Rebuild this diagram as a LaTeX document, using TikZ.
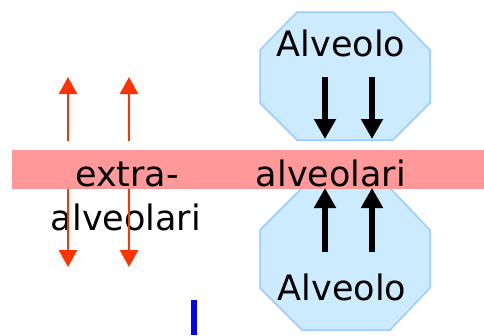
\documentclass[tikz,border=0pt]{standalone}
\usepackage{fontspec}
\setmainfont{DejaVu Sans}
\usetikzlibrary{arrows.meta}
\definecolor{octfill}{HTML}{CCEBFF}
\definecolor{octline}{HTML}{99CCFF}
\definecolor{bandpink}{HTML}{FF9999}
\definecolor{redarr}{HTML}{FF3300}
\definecolor{blueline}{HTML}{0000FF}
\begin{document}
\begin{tikzpicture}[x=1pt,y=-1pt,
  octagon/.style={fill=octfill,draw=octline,line width=1.5pt,line join=miter},
  lbl/.style={font=\fontsize{35}{35}\selectfont,anchor=base,inner sep=0pt,text=black},
  blackarrow/.style={line width=5.5pt,-{Triangle[width=21pt,length=20pt]}},
  redarrow/.style={draw=redarr,line width=2.5pt,-{Triangle[width=18pt,length=17pt]}}]
\useasboundingbox (0,0) rectangle (484,335);
% octagons
\draw[octagon] (297,12)--(393,12)--(430,50)--(430,103)--(393,140)--(297,140)--(260,103)--(260,50)--cycle;
\draw[octagon] (302,188)--(390,188)--(430,230)--(430,288)--(390,330)--(302,330)--(260,288)--(260,230)--cycle;
% band
\fill[bandpink] (12,150) rectangle (484,189);
% texts
\node[lbl] (alvtop) at (341,56) {Alveolo};
\node[lbl] (alvbot) at (342,300) {Alveolo};
\node[lbl] (alvband) at (331,186) {alveolari};
\node[lbl] (extra) at (127,186) {extra-};
\node[lbl] (alvleft) at (126,230) {alveolari};
% coordinates for arrows
\coordinate (ta1) at (325,77); \coordinate (tb1) at (325,139);
\coordinate (ta2) at (372,77); \coordinate (tb2) at (372,139);
\coordinate (ba1) at (325,252); \coordinate (bb1) at (325,188);
\coordinate (ba2) at (372,252); \coordinate (bb2) at (372,188);
\coordinate (ru1a) at (68,141); \coordinate (ru1b) at (68,77);
\coordinate (ru2a) at (129,141); \coordinate (ru2b) at (129,77);
\coordinate (rd1a) at (68,189); \coordinate (rd1b) at (68,267);
\coordinate (rd2a) at (129,189); \coordinate (rd2b) at (129,267);
\coordinate (bl1) at (193.5,300); \coordinate (bl2) at (193.5,335);
% arrows
\draw[blackarrow] (ta1) -- (tb1);
\draw[blackarrow] (ta2) -- (tb2);
\draw[blackarrow] (ba1) -- (bb1);
\draw[blackarrow] (ba2) -- (bb2);
\draw[redarrow] (ru1a) -- (ru1b);
\draw[redarrow] (ru2a) -- (ru2b);
\draw[redarrow] (rd1a) -- (rd1b);
\draw[redarrow] (rd2a) -- (rd2b);
\draw[blueline,line width=6pt] (bl1) -- (bl2);
\end{tikzpicture}
\end{document}
